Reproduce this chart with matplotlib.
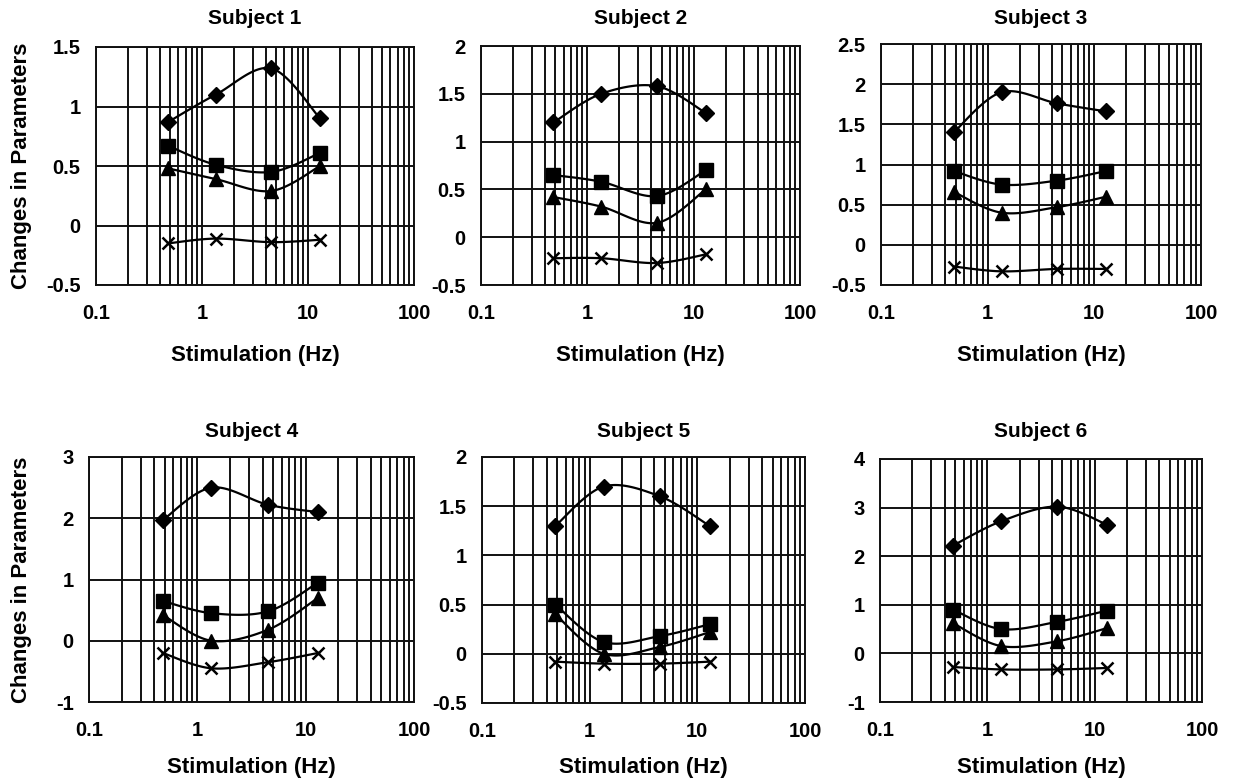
import numpy as np
import matplotlib
matplotlib.use("Agg")
import matplotlib.pyplot as plt
from matplotlib.ticker import FixedLocator, LogLocator, NullFormatter

plt.rcParams['font.family'] = ['Liberation Sans', 'DejaVu Sans']
plt.rcParams['font.weight'] = 'bold'

freqs = [0.48, 1.35, 4.5, 13.0]
titles = ["Subject 1", "Subject 2", "Subject 3", "Subject 4", "Subject 5", "Subject 6"]

diamond = [
    [0.87, 1.10, 1.32, 0.90],
    [1.20, 1.50, 1.58, 1.30],
    [1.40, 1.90, 1.76, 1.66],
    [1.97, 2.50, 2.22, 2.10],
    [1.30, 1.70, 1.60, 1.30],
    [2.22, 2.72, 3.02, 2.65],
]
square = [
    [0.67, 0.51, 0.45, 0.61],
    [0.65, 0.58, 0.43, 0.70],
    [0.92, 0.75, 0.80, 0.92],
    [0.65, 0.45, 0.48, 0.95],
    [0.50, 0.12, 0.18, 0.30],
    [0.90, 0.50, 0.65, 0.88],
]
triangle = [
    [0.48, 0.39, 0.29, 0.50],
    [0.42, 0.32, 0.15, 0.50],
    [0.66, 0.40, 0.47, 0.60],
    [0.42, 0.00, 0.18, 0.70],
    [0.40, 0.00, 0.07, 0.22],
    [0.62, 0.15, 0.25, 0.52],
]
cross = [
    [-0.15, -0.11, -0.14, -0.12],
    [-0.22, -0.22, -0.27, -0.18],
    [-0.27, -0.33, -0.30, -0.30],
    [-0.20, -0.45, -0.35, -0.20],
    [-0.08, -0.10, -0.10, -0.08],
    [-0.28, -0.33, -0.33, -0.30],
]
ylims = [(-0.5, 1.5), (-0.5, 2.0), (-0.5, 2.5), (-1, 3), (-0.5, 2.0), (-1, 4)]
yticks = [
    [-0.5, 0, 0.5, 1, 1.5],
    [-0.5, 0, 0.5, 1, 1.5, 2],
    [-0.5, 0, 0.5, 1, 1.5, 2, 2.5],
    [-1, 0, 1, 2, 3],
    [-0.5, 0, 0.5, 1, 1.5, 2],
    [-1, 0, 1, 2, 3, 4],
]
xticks = [0.1, 1, 10, 100]
xticklabels = ["0.1", "1", "10", "100"]

# axes boxes in pixels: left, right, top, bottom
boxes = [
    (96, 414, 47, 285), (481, 800, 46, 285), (881, 1201, 44, 285),
    (89, 414, 457, 702), (482, 805, 457, 703), (880, 1202, 459, 702),
]
title_y = [18, 18, 18, 432, 432, 432]
xlabel_y = [355, 355, 355, 768, 768, 768]
W, H = 1239, 782
fig = plt.figure(figsize=(W / 100, H / 100), dpi=100)


def smooth(xs, ys, n=30):
    lx = np.log10(xs)
    ys = np.asarray(ys, float)
    P = np.column_stack([lx, ys])
    P = np.vstack([P[0], P, P[-1]])
    out = []
    for i in range(1, len(P) - 2):
        p0, p1, p2, p3 = P[i - 1], P[i], P[i + 1], P[i + 2]
        t = np.linspace(0, 1, n)[:, None]
        seg = 0.5 * ((2 * p1) + (-p0 + p2) * t + (2 * p0 - 5 * p1 + 4 * p2 - p3) * t ** 2
                     + (-p0 + 3 * p1 - 3 * p2 + p3) * t ** 3)
        out.append(seg if i == 1 else seg[1:])
    out = np.vstack(out)
    return 10 ** out[:, 0], out[:, 1]


def fmt(v):
    if float(v).is_integer():
        return str(int(v))
    return str(v)


for i in range(6):
    l, r, t, b = boxes[i]
    ax = fig.add_axes([l / W, 1 - b / H, (r - l) / W, (b - t) / H])
    ax.set_xscale('log')
    ax.set_xlim(0.1, 100)
    ax.set_ylim(*ylims[i])
    ax.xaxis.set_major_locator(FixedLocator(xticks))
    ax.set_xticklabels(xticklabels)
    ax.xaxis.set_minor_locator(LogLocator(base=10, subs=np.arange(2, 10)))
    ax.xaxis.set_minor_formatter(NullFormatter())
    ax.set_yticks(yticks[i])
    ax.set_yticklabels([fmt(v) for v in yticks[i]])
    ax.grid(True, which='both', axis='x', color='#111111', lw=1.4)
    ax.grid(True, which='major', axis='y', color='#111111', lw=1.4)
    ax.set_axisbelow(True)
    ax.tick_params(which='both', length=0, labelsize=14.5)
    ax.tick_params(axis='y', pad=11)
    ax.tick_params(axis='x', pad=14)
    for s in ax.spines.values():
        s.set_color('#111111')
        s.set_linewidth(1.4)

    for ys, mk, ms in [(diamond[i], 'D', 8.5), (square[i], 's', 10.5),
                       (triangle[i], '^', 10), (cross[i], 'x', 8)]:
        sx, sy = smooth(freqs, ys)
        ax.plot(sx, sy, color='black', lw=1.6, zorder=3)
        ax.plot(freqs, ys, ls='none', marker=mk, ms=ms, color='black',
                mec='black', mew=1.8 if mk == 'x' else 1, zorder=4)

    cx = (l + r) / 2 / W
    fig.text(cx, 1 - title_y[i] / H, titles[i], fontsize=15, fontweight='bold',
             ha='center', va='center')
    fig.text(cx, 1 - xlabel_y[i] / H, "Stimulation (Hz)", fontsize=16, fontweight='bold',
             ha='center', va='center')
    if i % 3 == 0:
        fig.text(22 / W, 1 - (t + b) / 2 / H, "Changes in Parameters", fontsize=16,
                 fontweight='bold', rotation=90, ha='center', va='center')

fig.savefig("out.png", dpi=100)
